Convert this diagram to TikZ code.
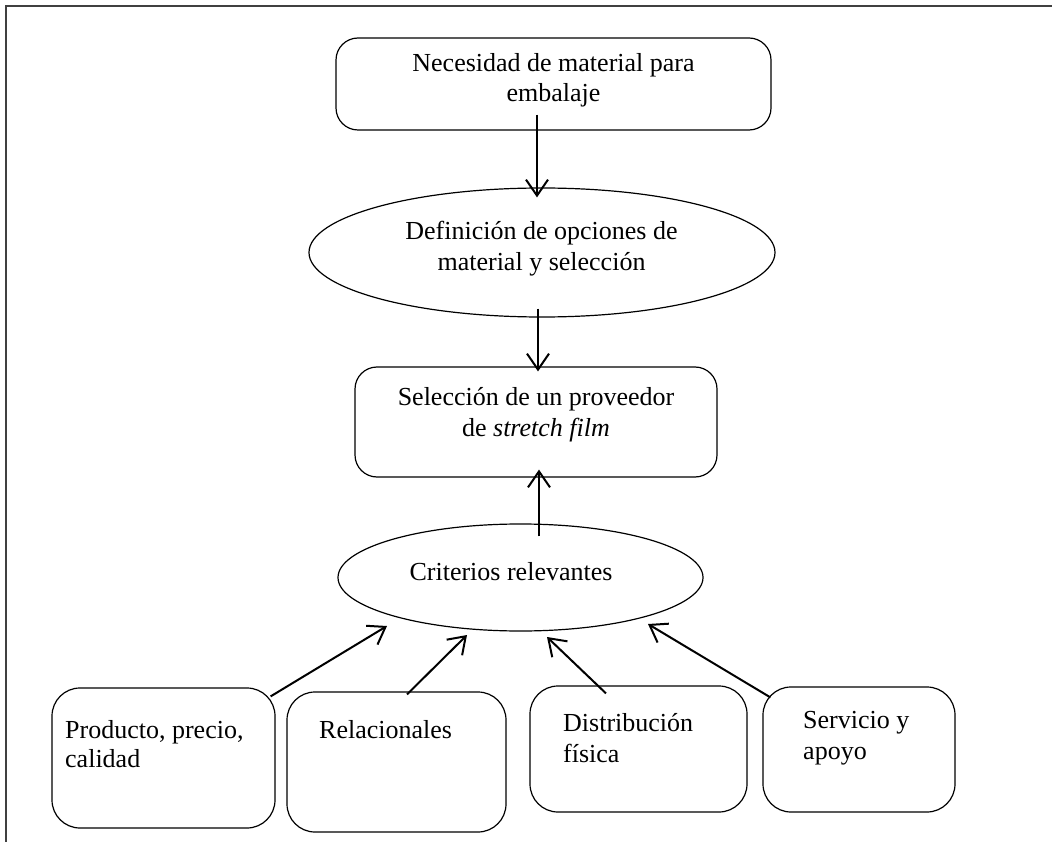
\documentclass[tikz,border=0pt]{standalone}
\usepackage{fontspec}
\setmainfont{Liberation Serif}
\usetikzlibrary{shapes.geometric,arrows.meta,calc}
\tikzset{
  box/.style={draw, rounded corners=22pt, line width=1.2pt, inner sep=0pt},
  oval/.style={draw, ellipse, line width=1.2pt, inner sep=0pt},
  arr/.style={line width=2pt, -{Straight Barb[length=16pt,width=22pt,line width=2pt]}},
  lbl/.style={font=\fontsize{26}{30}\selectfont, inner sep=0pt, anchor=base},
  lbll/.style={font=\fontsize{26}{30}\selectfont, inner sep=0pt, anchor=base west},
  frame/.style={line width=2pt, black!75}
}
\begin{document}
\begin{tikzpicture}[x=1pt,y=-1pt]
\useasboundingbox (0,0) rectangle (1052,842);
\draw[frame] (6,842) -- (6,6) -- (1052,6);

% shapes
\node[box, minimum width=435pt, minimum height=92pt] (n1) at (553.5,84) {};
\node[oval, minimum width=466pt, minimum height=129pt] (e1) at (542,252.5) {};
\node[box, minimum width=362pt, minimum height=110pt] (n3) at (536,422) {};
\node[oval, minimum width=365pt, minimum height=107pt] (e2) at (520.5,577.5) {};
\node[box, rounded corners=28pt, minimum width=223pt, minimum height=140pt] (pA) at (163.5,758) {};
\node[box, rounded corners=28pt, minimum width=219pt, minimum height=140pt] (pB) at (396.5,762) {};
\node[box, rounded corners=28pt, minimum width=217pt, minimum height=126pt] (pC) at (638.5,749) {};
\node[box, rounded corners=28pt, minimum width=192pt, minimum height=125pt] (pD) at (859,749.5) {};

% texts
\node[lbl] (t1a) at (553.5,72) {Necesidad de material para};
\node[lbl] (t1b) at (553.5,102) {embalaje};
\node[lbl] (t2a) at (541.5,240) {Definición de opciones de};
\node[lbl] (t2b) at (541.5,271) {material y selección};
\node[lbl] (t3a) at (536,405) {Selección de un proveedor};
\node[lbl] (t3b) at (536,436) {de \textit{stretch film}};
\node[lbl] (t4) at (511,580) {Criterios relevantes};
\node[lbll] (tA1) at (65,738) {Producto, precio,};
\node[lbll] (tA2) at (65,767) {calidad};
\node[lbll] (tB) at (319,738) {Relacionales};
\node[lbll] (tC1) at (563,731) {Distribución};
\node[lbll] (tC2) at (563,762) {física};
\node[lbll] (tD1) at (803,728) {Servicio y};
\node[lbll] (tD2) at (803,759) {apoyo};

% connectors
\draw[arr] ($(n1.south)+(-16.5,-16)$) -- ($(e1.north)+(-5,10)$);
\draw[arr] ($(e1.south)+(-4,-9)$) -- ($(n3.north)+(2,5)$);
\draw[arr] ($(e2.north)+(18.5,13)$) -- ($(n3.south)+(3,-8)$);
\draw[arr] ($(pA.north east)+(-5,9)$) -- ($(e2.center)+(-133.5,48.5)$);
\draw[arr] ($(pB.north)+(10.5,3)$) -- ($(e2.center)+(-53.5,57.5)$);
\draw[arr] ($(pC.north)+(-32.5,8)$) -- ($(e2.center)+(26.5,59.5)$);
\draw[arr] ($(pD.north west)+(8,11)$) -- ($(e2.center)+(127.5,46.5)$);
\end{tikzpicture}
\end{document}
